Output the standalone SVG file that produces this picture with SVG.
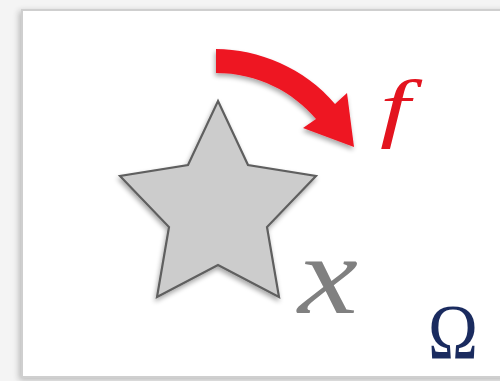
<svg xmlns="http://www.w3.org/2000/svg" width="500" height="381" viewBox="0 0 500 381">
<defs>
<filter id="sh" x="-20%" y="-20%" width="140%" height="140%">
<feGaussianBlur in="SourceAlpha" stdDeviation="2.5"/>
<feOffset dx="-1" dy="3" result="b"/>
<feComponentTransfer><feFuncA type="linear" slope="0.35"/></feComponentTransfer>
<feMerge><feMergeNode/><feMergeNode in="SourceGraphic"/></feMerge>
</filter>
<filter id="fsh" x="-5%" y="-5%" width="110%" height="110%">
<feGaussianBlur in="SourceAlpha" stdDeviation="3"/>
<feOffset dx="-2" dy="2"/>
<feComponentTransfer><feFuncA type="linear" slope="0.25"/></feComponentTransfer>
<feMerge><feMergeNode/><feMergeNode in="SourceGraphic"/></feMerge>
</filter>
<style>
.lbl{font-family:"Liberation Serif","Times New Roman",serif;font-style:italic}
</style>
</defs>
<rect width="500" height="381" fill="#f4f4f4"/>
<g id="frame">
<rect x="22" y="10" width="490" height="367" fill="#ffffff" stroke="#cfcfcf" stroke-width="2" filter="url(#fsh)"/>
</g>
<g id="star">
<polygon points="218,101 248,165 316,176 267,227 279,297 218,265 157,297 169,227 120,176 188,165" fill="#cccccc" stroke="#5f5f5f" stroke-width="2.2" stroke-linejoin="miter" filter="url(#sh)"/>
</g>
<g id="connectors">
<path d="M216,49 C258,49 305,68 335,104 L347,93 L354,147 L303,128 L316,119 C293,92 258,73 216,73 Z" fill="#ee1423" filter="url(#sh)"/>
</g>
<g id="labels">
<text class="lbl" x="380" y="133" font-size="76" fill="#e3141f" textLength="30" lengthAdjust="spacingAndGlyphs">f</text>
<text class="lbl" x="298" y="313" font-size="112" fill="#808080" textLength="60" lengthAdjust="spacingAndGlyphs">x</text>
<text x="428" y="358" font-size="78" fill="#1a2b5f" font-family="'Liberation Serif','Times New Roman',serif" textLength="50" lengthAdjust="spacingAndGlyphs">Ω</text>
</g>
</svg>
